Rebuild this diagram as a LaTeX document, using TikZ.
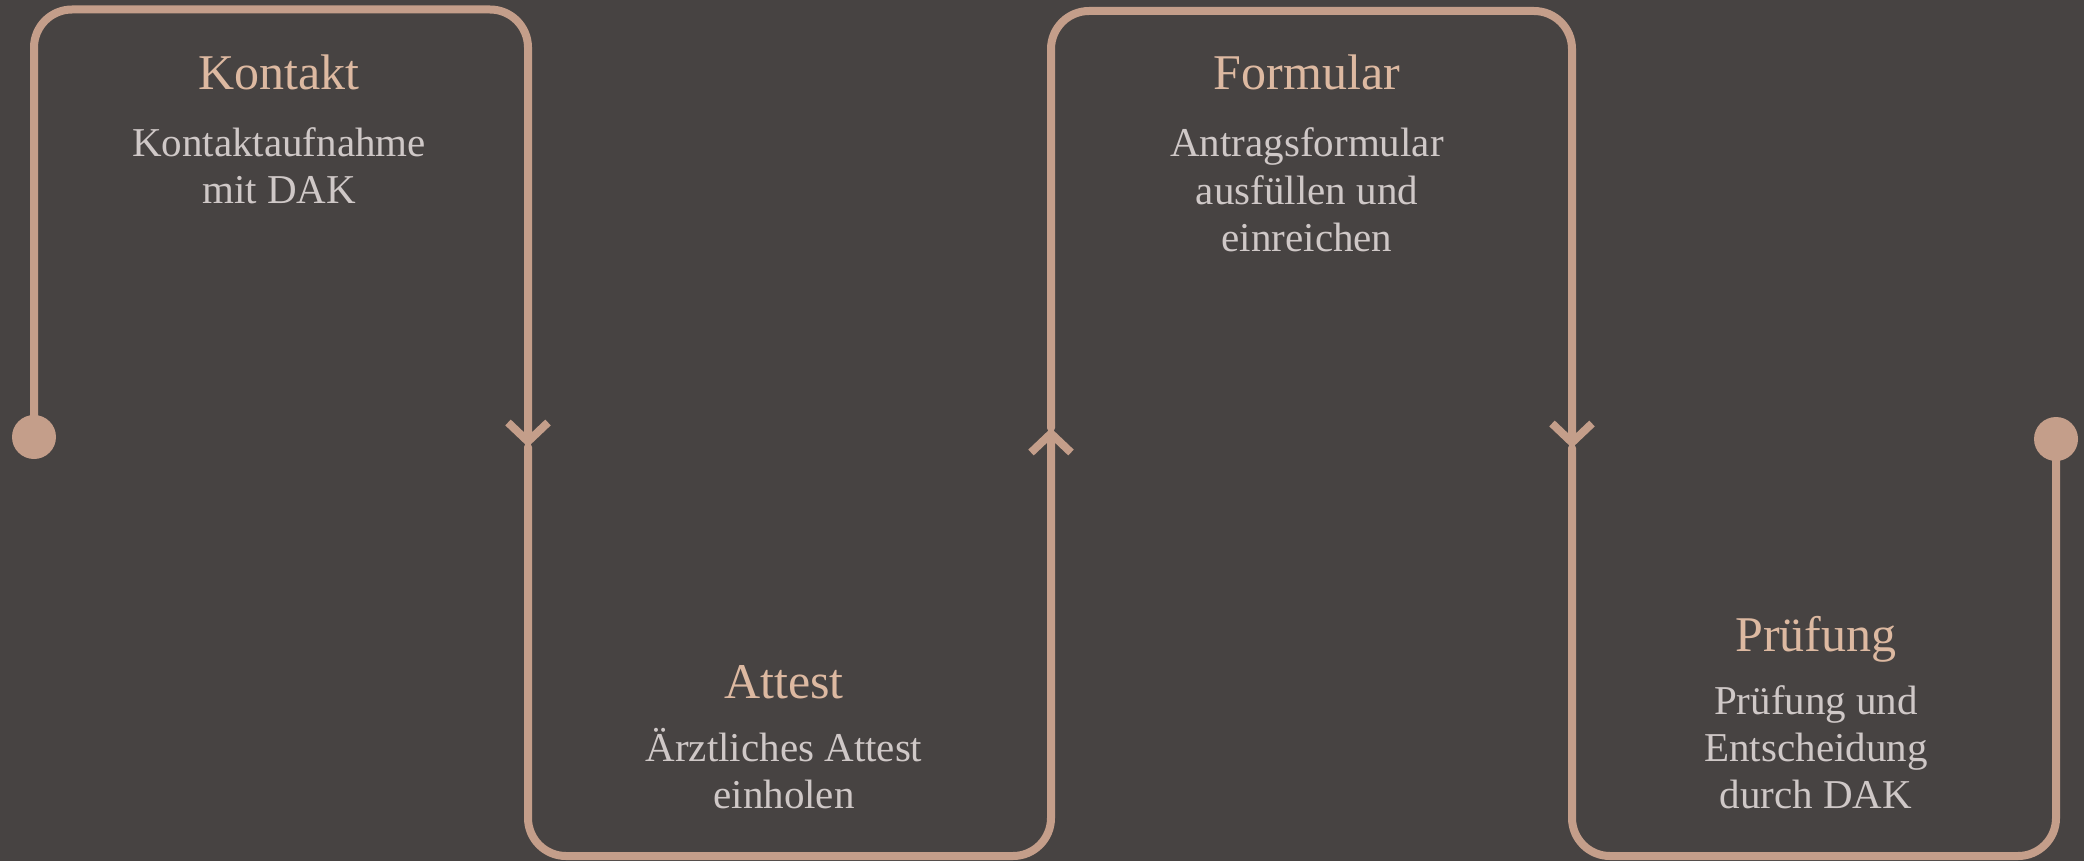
\documentclass[tikz,border=0pt]{standalone}
\usepackage{fontspec}
\setmainfont{Liberation Serif}
\usetikzlibrary{arrows.meta}
\definecolor{bg}{HTML}{474342}
\definecolor{linec}{HTML}{C49E8A}
\definecolor{titlec}{HTML}{DDB9A1}
\definecolor{bodyc}{HTML}{CFC8C7}
\begin{document}
\begin{tikzpicture}[x=1pt,y=-1pt,
  flow/.style={draw=linec,line width=8pt,rounded corners=38pt,line cap=round},
  barb/.style={-{Straight Barb[length=19pt,width=40pt,round,sharp]}},
  dot/.style={circle,fill=linec,minimum size=44pt,inner sep=0pt},
  ttl/.style={text=titlec,font=\fontsize{50}{60}\selectfont,anchor=base},
  bdy/.style={text=bodyc,font=\fontsize{41}{47}\selectfont,align=center,anchor=base}]
\fill[bg] (0,0) rectangle (2084,861);
\useasboundingbox (0,0) rectangle (2084,861);
\node[dot] (s) at (34,437) {};
\node[dot] (e) at (2056,439) {};
\coordinate (a1) at (528,447);
\coordinate (a2) at (1051,428);
\coordinate (a3) at (1572,448);
\draw[flow,barb] (s.center) -- (34,9.5) -- (528,9.5) -- (a1);
\draw[flow,barb] (a1) -- (528,856) -- (1051,856) -- (a2);
\draw[flow,barb] (a2) -- (1051,11) -- (1572,11) -- (a3);
\draw[flow] (a3) -- (1572,856) -- (2056,856) -- (e.center);
\node[ttl] (t1) at (279,90) {Kontakt};
\node[bdy] (b1) at (279,204) {Kontaktaufnahme\\mit DAK};
\node[ttl] (t2) at (784,698) {Attest};
\node[bdy] (b2) at (784,808) {Ärztliches Attest\\einholen};
\node[ttl] (t3) at (1307,90) {Formular};
\node[bdy] (b3) at (1307,251) {Antragsformular\\ausfüllen und\\einreichen};
\node[ttl] (t4) at (1816,651) {Prüfung};
\node[bdy] (b4) at (1816,808) {Prüfung und\\Entscheidung\\durch DAK};
\end{tikzpicture}
\end{document}
